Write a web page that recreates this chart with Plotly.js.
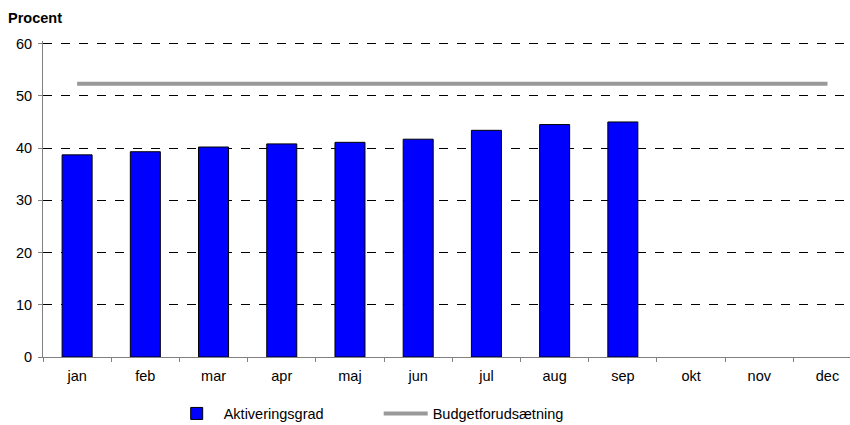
<!DOCTYPE html>
<html>
<head>
<meta charset="utf-8">
<script src="https://cdn.plot.ly/plotly-3.0.1.min.js"></script>
<style>
  html, body { margin: 0; padding: 0; background: #fff; }
  #chart { width: 850px; height: 425px; }
</style>
</head>
<body>
<div id="chart"></div>
<script>
var months = ['jan', 'feb', 'mar', 'apr', 'maj', 'jun', 'jul', 'aug', 'sep', 'okt', 'nov', 'dec'];
var aktivering = [38.7, 39.3, 40.2, 40.8, 41.1, 41.7, 43.4, 44.5, 45.0, null, null, null];
var budget = [52.3, 52.3, 52.3, 52.3, 52.3, 52.3, 52.3, 52.3, 52.3, 52.3, 52.3, 52.3];

var barTrace = {
    x: months,
    y: aktivering,
    type: 'bar',
    name: 'Aktiveringsgrad',
    width: 0.44,
    marker: {
        color: '#0000FF',
        line: {color: '#000000', width: 1}
    },
    hoverinfo: 'none'
};

var lineTrace = {
    x: months,
    y: budget,
    type: 'scatter',
    mode: 'lines',
    name: 'Budgetforudsætning',
    line: {color: '#999999', width: 4},
    hoverinfo: 'none'
};

var layout = {
    width: 850,
    height: 425,
    margin: {l: 43, r: 0, t: 41.4, b: 68, autoexpand: false},
    paper_bgcolor: '#ffffff',
    plot_bgcolor: '#ffffff',
    font: {family: 'Liberation Sans, Arial, sans-serif', size: 14.5, color: '#000000'},
    title: {
        text: '<b>Procent</b>',
        x: 0.0094,
        xanchor: 'left',
        y: 0.958,
        yanchor: 'middle',
        font: {size: 14.5, color: '#000000'}
    },
    showlegend: true,
    legend: {
        orientation: 'h',
        x: 0.157,
        xanchor: 'left',
        yref: 'container',
        y: 0.027,
        yanchor: 'middle',
        itemwidth: 44,
        entrywidth: 150,
        font: {size: 14.5},
        traceorder: 'normal'
    },
    xaxis: {
        type: 'category',
        range: [-0.5, 11.33],
        automargin: false,
        showline: true,
        linecolor: '#808080',
        linewidth: 1,
        ticks: 'outside',
        tickson: 'boundaries',
        ticklen: 4,
        tickcolor: '#808080',
        ticklabelstandoff: 6,
        showgrid: false,
        fixedrange: true
    },
    yaxis: {
        range: [0, 60.5],
        tickvals: [0, 10, 20, 30, 40, 50, 60],
        automargin: false,
        showline: true,
        linecolor: '#808080',
        linewidth: 1,
        ticks: 'outside',
        ticklen: 4,
        tickcolor: '#808080',
        ticklabelstandoff: 3,
        showgrid: true,
        gridcolor: '#000000',
        griddash: 'dash',
        gridwidth: 1,
        zeroline: false,
        fixedrange: true
    },
    bargap: 0.56
};

Plotly.newPlot('chart', [barTrace, lineTrace], layout, {displayModeBar: false, staticPlot: true});
</script>
</body>
</html>
